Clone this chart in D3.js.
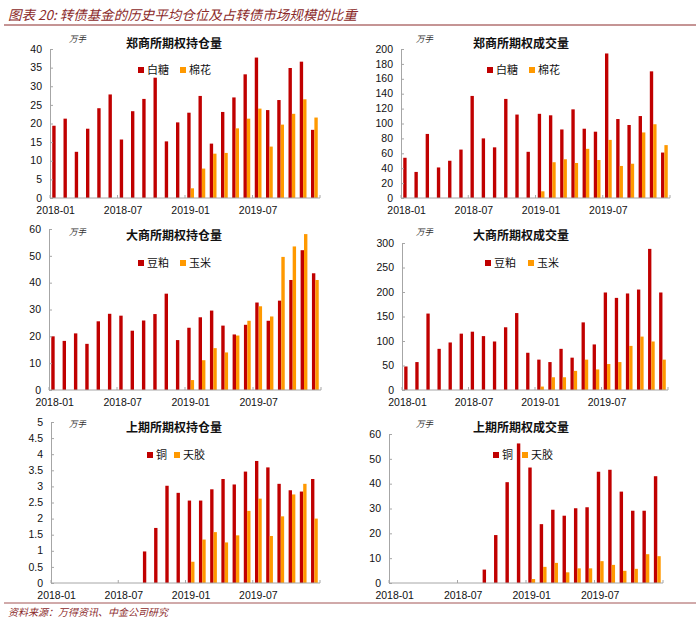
<!DOCTYPE html>
<html>
<head>
<meta charset="utf-8">
<script src="https://cdn.jsdelivr.net/npm/d3@7"></script>
<style>
  body { margin: 0; background: #fff; }
  svg { display: block; }
</style>
</head>
<body>
<svg id="chart" width="700" height="624"></svg>
<script>
// months on the x axis
const months = ['2018-01','2018-02','2018-03','2018-04','2018-05','2018-06',
  '2018-07','2018-08','2018-09','2018-10','2018-11','2018-12',
  '2019-01','2019-02','2019-03','2019-04','2019-05','2019-06',
  '2019-07','2019-08','2019-09','2019-10','2019-11','2019-12'];
const xTickLabels = ['2018-01', '2018-07', '2019-01', '2019-07'];

// 郑商所 (万手)
const zceOiSugar = [19.4,21.3,12.4,18.6,24.1,27.8,15.7,23.3,26.6,32.3,15.2,20.3,
  22.9,27.4,14.6,23.1,27.0,33.2,37.7,23.6,26.3,34.9,36.6,18.3];
const zceOiCotton = [null,null,null,null,null,null,null,null,null,null,null,null,
  2.6,7.9,11.9,12.1,18.7,21.3,24.0,13.8,19.7,22.6,26.5,21.6];
const zceVolSugar = [54,35,86,41,50,65,137,80,68,133,112,62,
  113,111,92,119,93,89,194,106,98,110,170,61];
const zceVolCotton = [null,null,null,null,null,null,null,null,null,null,null,null,
  9,48,52,47,66,51,78,43,46,88,99,71];

// 大商所 (万手)
const dceOiMeal = [20.0,18.3,21.1,17.2,25.6,28.4,27.7,22.1,25.9,28.3,35.9,18.6,
  23.2,27.1,29.6,24.0,20.7,24.3,32.6,25.8,33.3,41.0,52.1,43.5];
const dceOiCorn = [null,null,null,null,null,null,null,null,null,null,null,null,
  3.7,11.1,15.6,14.0,20.3,25.8,31.2,27.4,49.6,53.5,58.1,41.0];
const dceVolMeal = [48,57,156,84,97,115,119,110,99,128,157,76,
  62,57,84,66,138,93,199,188,197,205,288,199];
const dceVolCorn = [null,null,null,null,null,null,null,null,null,null,null,null,
  7,26,26,39,62,42,53,57,90,109,99,62];

// 上期所 (万手)
const shfeOiCopper = [null,null,null,null,null,null,null,null,0.98,1.71,3.02,2.80,
  2.56,2.56,2.91,3.23,3.06,3.46,3.79,3.59,3.08,2.88,2.84,3.23];
const shfeOiRubber = [null,null,null,null,null,null,null,null,null,null,null,null,
  0.66,1.35,1.58,1.26,1.48,2.24,2.62,1.46,2.07,2.75,3.08,2.00];
const shfeVolCopper = [null,null,null,null,null,null,null,null,5.4,19.3,40.6,56.2,
  46.5,23.7,29.5,27.1,30.1,30.5,44.8,45.6,36.8,29.1,29.1,43.0];
const shfeVolRubber = [null,null,null,null,null,null,null,null,null,null,null,null,
  1.6,6.5,8.1,4.3,5.9,5.9,8.8,7.3,4.9,5.7,11.6,10.8];

const RED = '#C00000', ORANGE = '#FF9900';
const AXIS = '#A6A6A6';
const BROWN = '#8B2A2A';
const NUM_FONT = '"Liberation Sans", Arial, sans-serif';
const CJK_FONT = '"Noto Sans CJK SC", sans-serif';

const panels = [
  { title: '郑商所期权持仓量', names: ['白糖', '棉花'], series: [zceOiSugar, zceOiCotton],
    max: 40, step: 5, left: 50, right: 320, top: 49, bottom: 198,
    unit: [69, 39], legend: [138, 180, 70] },
  { title: '郑商所期权成交量', names: ['白糖', '棉花'], series: [zceVolSugar, zceVolCotton],
    max: 200, step: 20, left: 401, right: 670, top: 49, bottom: 198,
    unit: [416, 39], legend: [487, 529, 70] },
  { title: '大商所期权持仓量', names: ['豆粕', '玉米'], series: [dceOiMeal, dceOiCorn],
    max: 60, step: 10, left: 49, right: 321, top: 229, bottom: 390,
    unit: [69, 232], legend: [138, 180, 263] },
  { title: '大商所期权成交量', names: ['豆粕', '玉米'], series: [dceVolMeal, dceVolCorn],
    max: 300, step: 50, left: 402, right: 668, top: 243, bottom: 390,
    unit: [416, 232], legend: [485, 528, 263] },
  { title: '上期所期权持仓量', names: ['铜', '天胶'], series: [shfeOiCopper, shfeOiRubber],
    max: 5, step: 0.5, left: 51, right: 320, top: 422, bottom: 583,
    unit: [69, 424], legend: [147, 174, 455] },
  { title: '上期所期权成交量', names: ['铜', '天胶'], series: [shfeVolCopper, shfeVolRubber],
    max: 60, step: 10, left: 389, right: 663, top: 434, bottom: 583,
    unit: [416, 424], legend: [493, 522, 455] }
];
const titleY = [44, 44, 236, 236, 428, 428];

const svg = d3.select('#chart');

// header
svg.append('text')
  .attr('x', 8).attr('y', 20)
  .attr('font-family', CJK_FONT)
  .attr('font-style', 'italic')
  .attr('font-size', 13.5)
  .attr('fill', BROWN)
  .text('图表 20: 转债基金的历史平均仓位及占转债市场规模的比重');
svg.append('line')
  .attr('x1', 4).attr('x2', 696).attr('y1', 25).attr('y2', 25)
  .attr('stroke', BROWN).attr('stroke-width', 1);

// footer
svg.append('line')
  .attr('x1', 4).attr('x2', 696).attr('y1', 603).attr('y2', 603)
  .attr('stroke', BROWN).attr('stroke-width', 0.8);
svg.append('text')
  .attr('x', 8).attr('y', 616)
  .attr('font-family', CJK_FONT)
  .attr('font-style', 'italic')
  .attr('font-size', 10)
  .attr('fill', BROWN)
  .text('资料来源：万得资讯、中金公司研究');

panels.forEach((p, pi) => {
  const g = svg.append('g');

  const x0 = d3.scaleBand().domain(months).range([p.left, p.right]).padding(0);
  const bw = x0.bandwidth() * 0.3;
  const x1 = d3.scaleBand().domain([0, 1])
    .range([x0.bandwidth() / 2 - bw, x0.bandwidth() / 2 + bw]);
  const y = d3.scaleLinear().domain([0, p.max]).range([p.bottom, p.top]);

  // bars
  p.series.forEach((vals, si) => {
    g.append('g')
      .selectAll('rect')
      .data(months.map((m, i) => ({ m, v: vals[i] })).filter(d => d.v != null))
      .join('rect')
        .attr('x', d => x0(d.m) + x1(si))
        .attr('width', x1.bandwidth())
        .attr('y', d => y(d.v))
        .attr('height', d => y(0) - y(d.v))
        .attr('fill', si === 0 ? RED : ORANGE);
  });

  // y axis
  const ticks = d3.range(0, p.max + p.step / 2, p.step);
  const yAxis = g.append('g')
    .attr('transform', `translate(${p.left},0)`)
    .call(d3.axisRight(y).tickValues(ticks).tickSize(3).tickFormat(''));
  yAxis.select('.domain').attr('stroke', AXIS);
  yAxis.selectAll('.tick line').attr('stroke', AXIS);
  g.append('g')
    .selectAll('text')
    .data(ticks)
    .join('text')
      .attr('x', p.left - 8)
      .attr('y', d => y(d))
      .attr('dy', '0.35em')
      .attr('text-anchor', 'end')
      .attr('font-family', NUM_FONT)
      .attr('font-size', 10.5)
      .attr('fill', '#111')
      .text(d => d3.format('~g')(d));

  // x axis
  g.append('line')
    .attr('x1', p.left).attr('x2', p.right)
    .attr('y1', p.bottom).attr('y2', p.bottom)
    .attr('stroke', AXIS);
  const bounds = [0, 6, 12, 18, 24];
  g.append('g')
    .selectAll('line')
    .data(bounds)
    .join('line')
      .attr('x1', d => p.left + d * x0.step())
      .attr('x2', d => p.left + d * x0.step())
      .attr('y1', p.bottom).attr('y2', p.bottom - 3)
      .attr('stroke', AXIS);
  g.append('g')
    .selectAll('text')
    .data(xTickLabels)
    .join('text')
      .attr('x', d => x0(d) + x0.bandwidth() / 2)
      .attr('y', p.bottom + 16)
      .attr('text-anchor', 'middle')
      .attr('font-family', NUM_FONT)
      .attr('font-size', 10.5)
      .attr('fill', '#111')
      .text(d => d);

  // title
  g.append('text')
    .attr('x', (pi % 2 === 0) ? 174 : 521)
    .attr('y', titleY[pi])
    .attr('dy', '0.35em')
    .attr('text-anchor', 'middle')
    .attr('font-family', CJK_FONT)
    .attr('font-weight', 700)
    .attr('font-size', 12)
    .attr('fill', '#111')
    .text(p.title);

  // unit
  g.append('text')
    .attr('x', p.unit[0]).attr('y', p.unit[1])
    .attr('dy', '0.35em')
    .attr('font-family', CJK_FONT)
    .attr('font-style', 'italic')
    .attr('font-size', 8.5)
    .attr('fill', '#333')
    .text('万手');

  // legend
  const [lx0, lx1, ly] = p.legend;
  [lx0, lx1].forEach((lx, i) => {
    g.append('rect')
      .attr('x', lx).attr('y', ly - 3)
      .attr('width', 6).attr('height', 6)
      .attr('fill', i === 0 ? RED : ORANGE);
    g.append('text')
      .attr('x', lx + 9).attr('y', ly)
      .attr('dy', '0.35em')
      .attr('font-family', CJK_FONT)
      .attr('font-size', 11)
      .attr('fill', '#111')
      .text(p.names[i]);
  });
});
</script>
</body>
</html>
